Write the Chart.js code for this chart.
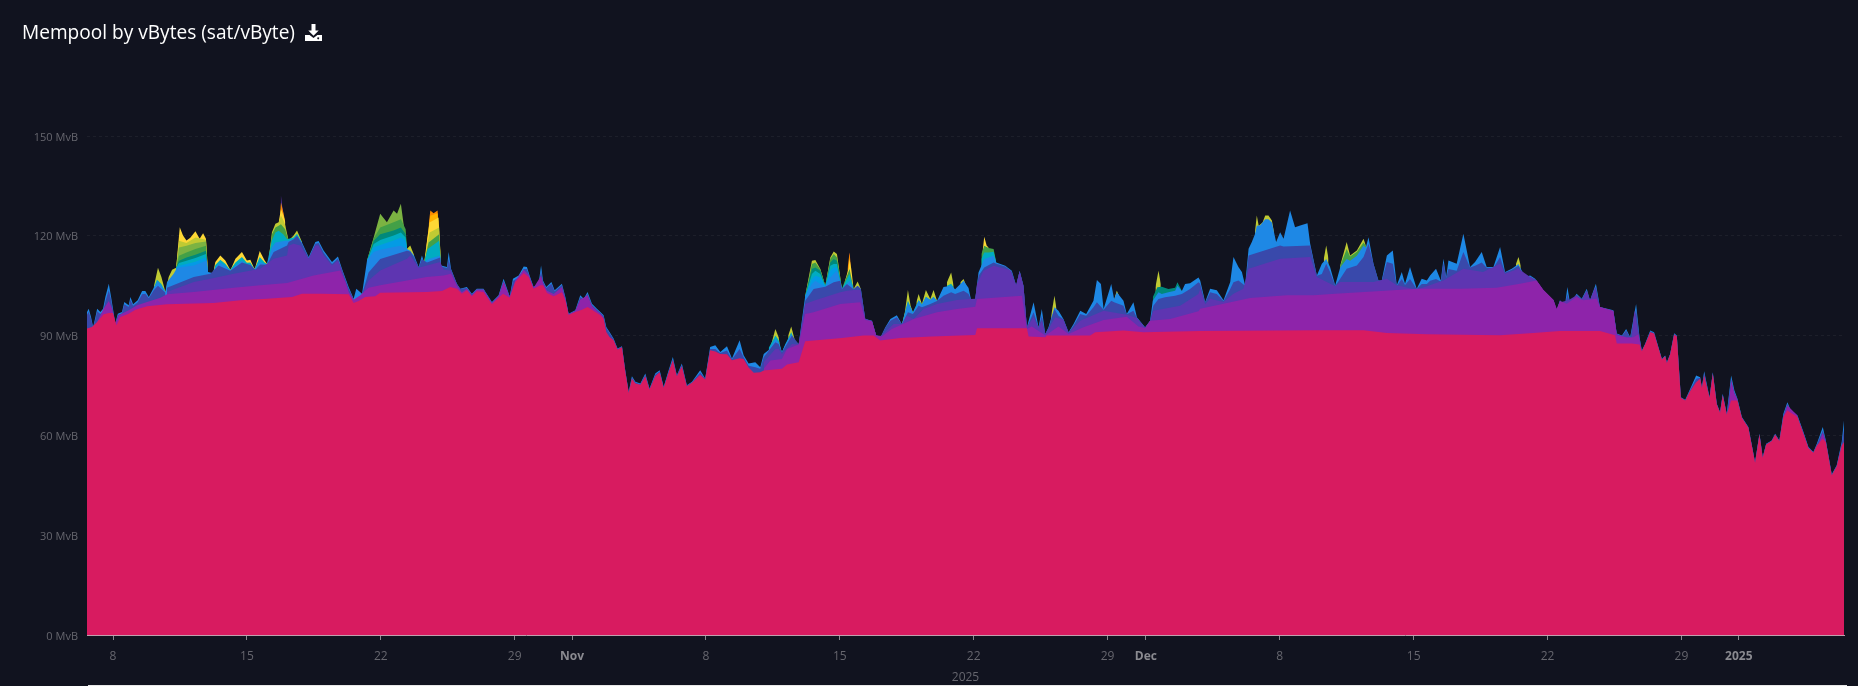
<!DOCTYPE html>
<html>
<head>
<meta charset="utf-8">
<title>Mempool by vBytes (sat/vByte)</title>
<script src="https://cdn.jsdelivr.net/npm/chart.js@4"></script>
<style>
html, body { margin: 0; padding: 0; background: #11131f; overflow: hidden; }
.chart-wrap { position: relative; width: 1858px; height: 686px; }
.chart-title {
    position: absolute; left: 22px; top: 19px; color: #fff;
    font: 400 19.1px "Open Sans", sans-serif; line-height: 27px;
}
.chart-title svg { position: absolute; left: 283px; top: 5px; }
.bottom-line { position: absolute; left: 88px; right: 11px; bottom: 0; height: 1px; background: #e8e8e8; }
</style>
</head>
<body>
<div class="chart-wrap">
    <canvas id="grafico-mempool" width="1858" height="686"></canvas>
    <div class="chart-title">Mempool by vBytes (sat/vByte)
        <svg width="17" height="17" viewBox="0 0 17 17" fill="#fff"><path d="M6.5 0h4v6.5h3.2L8.5 11.7 3.3 6.5h3.2z"/><path d="M0 11h4.6l3.9 3 3.9-3H17v6H0zM13.2 13.2a1 1 0 1 0 .01 0z"/></svg>
    </div>
    <div class="bottom-line"></div>
</div>

<script>
// x is days counted from 1 Oct (so 32 = 1 Nov, 62 = 1 Dec, 93 = 1 Jan)
const tickDays = [8, 15, 22, 29, 32, 39, 46, 53, 60, 62, 69, 76, 83, 90, 93];
const tickLabels = ['8', '15', '22', '29', 'Nov', '8', '15', '22', '29', 'Dec', '8', '15', '22', '29', '2025'];
const monthTicks = ['Nov', 'Dec', '2025'];
const axisYear = '2025';
const yTicks = [0, 30, 60, 90, 120, 150];

// Each list is the top edge of one fee band, [day, MvB].
// [day, null] breaks a band where it is not visible.
const pinkTop = [[6.64,92.1],[6.9,92.6],[7.17,94.1],[7.51,96.4],[7.78,96.8],[8,96.8],[8.18,93.1],[8.39,95.6],[8.82,96.6],[9.17,97.8],[9.78,98.8],[10.82,99.4],[13.26,99.8],[14.66,100.6],[16.05,101.1],[17.36,101.6],[17.88,102.6],[18.84,102.6],[20.32,102.4],[20.58,99.8],[20.84,100.4],[21.19,101.6],[21.71,101.8],[21.97,102.9],[24.41,103.1],[25.2,103.4],[25.63,104.6],[25.98,104.1],[26.24,102.6],[26.5,103.6],[26.76,101.8],[27.02,103.3],[27.37,103.1],[27.81,99.4],[28.16,101.4],[28.39,102.6],[28.74,101.4],[29.03,106.1],[29.47,108.8],[29.73,107.6],[29.99,104.1],[30.34,105.1],[30.48,105.1],[30.69,102.8],[31.04,101.8],[31.47,103],[31.65,100.6],[31.82,96.2],[32.17,97.1],[32.52,97.8],[32.81,98.6],[33.04,97.8],[33.48,96.1],[33.65,95.1],[33.79,91.1],[33.96,89.6],[34.17,88.6],[34.38,85.8],[34.61,86.5],[34.78,79.3],[34.96,72.8],[35.13,77],[35.31,75.6],[35.57,75.2],[35.83,77.8],[36.05,73.8],[36.35,77.8],[36.58,79],[36.79,74.3],[37.05,79],[37.27,82.6],[37.48,77.8],[37.74,80.8],[38,74.8],[38.27,75.8],[38.7,78.2],[38.96,76.8],[39.22,85.6],[39.49,85.2],[39.75,84.5],[40.1,84.4],[40.36,82.6],[40.76,83.2],[40.97,83],[41.23,80.4],[41.5,78.8],[41.84,79],[42.02,79.5],[42.97,80],[43.24,81.3],[43.85,82],[44.19,88.3],[46.11,89.3],[47.24,90],[47.77,90],[48.11,88.5],[49.16,89.3],[50.81,89.7],[53.08,90.2],[53.17,92.2],[55.78,92.2],[55.87,89.7],[56.74,89.5],[56.82,90],[59.09,90],[59.35,91],[60.83,91.5],[61.88,91],[64.84,91.4],[70.94,91.6],[73.38,91.6],[74.6,90.8],[76.69,90.4],[80.52,90.1],[82.26,90.8],[83.65,91.4],[85.74,91.4],[86.53,90.1],[86.62,87.6],[87.4,87.6],[87.81,87.3],[87.93,85.3],[88.1,87.3],[88.37,91],[88.57,90.6],[88.98,82.8],[89.15,83.8],[89.24,81.8],[89.41,84.3],[89.62,90.3],[89.76,89.7],[89.97,71.3],[90.2,70.5],[90.42,73],[90.77,76],[90.98,77],[91.07,74.3],[91.19,78],[91.47,71.3],[91.64,78.5],[91.85,69.3],[92.02,66.8],[92.16,72],[92.37,66.3],[92.6,70.5],[92.77,70.5],[92.93,70.5],[93.16,65.3],[93.5,62.3],[93.85,51.8],[94.08,60.3],[94.25,53.3],[94.43,57.3],[94.72,58.3],[94.9,60.2],[95.12,58.3],[95.33,65.5],[95.54,67.5],[95.72,66.8],[96.07,65.5],[96.38,60.5],[96.64,56.2],[96.9,54.8],[97.08,57],[97.39,59],[97.55,58],[97.86,48],[98.12,50.7],[98.38,57],[98.5,58]];

const purpleTop = [[7.17,94.1],[7.51,98.1],[7.78,100.4],[7.95,98.1],[8.12,93.6],[8.3,96.1],[8.82,97.6],[9.26,99.1],[9.78,100.1],[10.48,101.4],[10.82,102.4],[12.22,103.1],[13.09,103.6],[14.31,104.4],[15.7,105.1],[17.1,105.8],[18.49,108.1],[19.88,109.6],[20.15,106.1],[20.32,103.1],[20.58,100.8],[20.93,102.1],[21.36,104.4],[21.97,105.1],[23.37,106.6],[24.41,107.6],[25.28,108.1],[25.67,108.6],[25.98,104.8],[26.24,103],[26.5,104.1],[26.76,102.1],[27.02,103.8],[27.37,103.8],[27.81,99.8],[28.16,101.8],[28.42,106.1],[28.74,101.6],[29.03,106.6],[29.47,109.8],[29.73,108.3],[29.99,104.4],[30.38,108],[30.48,105.8],[30.69,103.5],[31.04,102.5],[31.47,104.6],[31.65,100.9],[31.82,96.4],[32.17,97.4],[32.43,100.8],[32.81,102.1],[33.04,98.8],[33.3,97.4],[33.48,96.6],[33.65,95.4],[33.66,null],
    [42.02,80],[42.37,82.5],[42.97,83],[43.24,86],[43.85,87.3],[44.19,96.5],[44.63,97],[46.02,99.5],[47.07,100],[47.33,94.7],[47.68,94.3],[47.9,90],[48.2,89.7],[48.72,92],[49.25,93.3],[49.86,95],[51.08,97],[52.12,98],[53.08,98.7],[53.17,101],[55.52,102],[55.78,92],[56.04,92.7],[56.74,90],[57,91],[57.43,92.7],[57.96,90.5],[58.74,92.5],[59.79,94.7],[61,95.7],[61.61,92.7],[61.96,92.3],[62.22,94.5],[63.27,95],[64.75,97.3],[64.84,98.1],[66.06,99.6],[67.45,101.3],[69.37,102.1],[70.76,102.1],[71.9,102.6],[74.07,103.3],[76.16,104.1],[78.43,104.1],[80.34,104.4],[81.56,105.6],[82.43,106.6],[82.78,103.8],[83.31,100.8],[83.48,98.1],[83.65,100.4],[84,99.6],[84.52,101.6],[84.87,100.6],[85.57,101.1],[85.74,98.6],[86.44,97.4],[86.62,90.1],[87.14,89.4],[87.49,89.5],[87.75,90.4],[87.92,85.4],[87.93,null],
    [92.37,66.3],[92.46,68],[92.6,76.5],[92.77,72.5],[92.93,70.8],[92.94,null],[95.33,65.5],[95.54,69],[96.07,66],[96.08,null],[97.2,58],[97.39,60.7],[97.55,58]];

const deepPurpleTop = [[10.82,103.1],[12.22,106.1],[13.09,107.1],[14.31,108.6],[15.7,110.1],[16.4,113.1],[17.1,114.1],[17.18,117],[17.44,117.6],[17.79,117.1],[18.23,113.1],[18.58,117.1],[18.75,117.1],[19.01,114.1],[19.45,111.1],[19.76,112.6],[19.97,109.6],[20.15,106.3],[20.32,103.3],[20.33,null],
    [21.02,102.3],[21.36,106.6],[21.97,109.6],[23.37,113.1],[23.54,114.1],[23.98,110.4],[24.41,111.1],[25.11,112.1],[25.28,109.8],[25.67,109.6],[25.98,105.4],[26.15,104],[26.16,null],
    [42.02,82],[42.63,86],[42.8,86],[42.97,84.5],[43.5,87.5],[43.85,87.3],[44.19,99.5],[44.63,100.5],[46.02,103],[46.37,103.5],[46.72,103.7],[47.07,103.7],[47.33,95],[47.68,94.4],[47.9,90],[48.15,89.9],[48.81,93.5],[49.25,93.5],[49.5,96],[49.86,95],[50.38,98],[51.08,99.5],[52.12,100.7],[52.82,101],[53.08,101.1],[53.17,105.5],[53.51,109.5],[54.04,111],[54.9,109.7],[55.22,105.2],[55.4,109.3],[55.6,105],[55.78,92.5],[56.13,95.5],[56.39,92.3],[56.56,94.5],[56.74,90.5],[56.91,92],[57.26,95.5],[57.69,94.7],[57.96,90.8],[58.57,94.5],[59.79,97.5],[61,96.3],[61.53,95.3],[61.96,92.3],[62.22,94.3],[62.39,97.5],[63.79,99],[64.75,102.5],[64.84,104.1],[65.1,99.4],[65.36,101.1],[66.06,100.1],[66.58,102.6],[67.1,104.1],[67.37,110.1],[69.02,113.1],[70.59,113.6],[70.94,107.6],[71.9,104.8],[72.16,106.1],[73.9,106.1],[74.6,107.1],[75.12,105.1],[76.16,103.8],[77.56,106.6],[78.6,110.1],[79.63,109.1],[80.52,111.6],[80.78,108.6],[81.48,110.1],[82.09,107.6],[82.43,106.6],[82.78,103.6],[83.31,100.6],[83.48,97.6],[83.72,100.1],[84.09,100.6],[84.52,102.1],[84.79,100.6],[85.05,103.4],[85.22,100.6],[85.48,104.4],[85.74,98.6],[86.44,97.4],[86.62,90.4],[87.4,89.1],[87.54,97.6],[87.75,90.6],[87.92,85.6]];

const indigoTop = [[6.64,96.3],[6.73,97.2],[6.85,95],[6.96,92.4],[7.08,95],[7.17,97.3],[7.34,96.5],[7.48,97.3],[7.6,100.3],[7.78,103.6],[7.9,100.8],[8.04,96.2],[8.12,93.4],[8.25,96.2],[8.47,96.7],[8.59,99.4],[8.82,98.6],[8.91,100.8],[9.05,99],[9.29,100],[9.52,102.4],[9.69,102.6],[9.87,101.2],[10.13,103.6],[10.35,105],[10.53,104],[10.74,102.9],[10.75,null],
    [10.82,104.4],[12.22,107.6],[13.09,108.6],[13.52,111.1],[14.13,109.5],[14.74,112],[15.18,111.2],[15.44,109.8],[15.7,111.4],[16.05,111.3],[16.4,115.1],[17.1,117.1],[17.18,118.1],[17.44,119],[17.62,120],[17.88,117.6],[18.23,113.3],[18.58,117.6],[18.75,117.8],[19.01,115],[19.45,111.5],[19.76,113.2],[19.97,109.8],[20.32,104.2],[20.58,100.9],[20.59,null],
    [21.02,102.4],[21.36,109],[21.97,113],[23.37,115.5],[23.54,115.3],[23.75,113.5],[23.98,110.5],[24.15,113],[24.41,112],[25.11,113.5],[25.15,110.8],[25.46,110.3],[25.55,113],[25.67,109.9],[25.98,105.5],[26.15,104.1],[26.5,104.3],[26.76,102.4],[27.02,103.9],[27.37,103.9],[27.81,99.9],[28.16,101.9],[28.42,106.5],[28.74,101.7],[28.91,106.4],[29.21,107.5],[29.47,110],[29.64,110],[29.78,107.7],[29.99,104.5],[30.25,105.3],[30.38,109.5],[30.48,106.2],[30.65,104.3],[30.92,105.6],[31.09,103.3],[31.47,105.2],[31.65,101.3],[31.82,96.5],[32.17,97.5],[32.43,101.6],[32.61,100.7],[32.81,102.6],[33.04,99.2],[33.3,97.8],[33.48,96.9],[33.65,95.8],[33.79,92.3],[33.96,90.8],[34.17,88.9],[34.38,86],[34.61,86.7],[34.78,79.5],[34.96,73],[35.13,77.4],[35.31,75.9],[35.57,75.4],[35.83,78.2],[36.05,74],[36.35,78.2],[36.58,79.3],[36.79,74.5],[37.05,79.3],[37.27,83],[37.48,78],[37.74,81.2],[38,75],[38.27,76],[38.7,78.9],[38.96,77],[39.22,86],[39.49,86],[39.75,84.8],[40.1,85.5],[40.36,82.9],[40.76,86],[40.97,83.5],[41.23,80.9],[41.58,80.5],[41.84,80],
    [42.02,83.5],[42.63,88],[42.8,87.5],[42.97,85],[43.5,90],[43.85,87.5],[44.19,100.5],[44.63,104],[45.24,104.7],[45.68,106],[46.02,106.5],[46.11,104],[46.37,105.5],[46.72,103.9],[46.93,105],[47.1,103.9],[47.33,95],[47.68,94.4],[47.9,90],[48.15,89.8],[48.38,92.4],[48.64,94.5],[48.98,95.5],[49.25,93.4],[49.56,97],[49.82,96.5],[50.12,99],[50.29,98.5],[50.73,99.5],[51.08,100.4],[51.42,102],[51.82,103],[52.03,102.5],[52.47,103.5],[52.73,102.5],[52.85,101],[53.08,101],[53.25,108],[53.55,110.5],[54.04,112],[54.18,111.6],[54.65,110.8],[54.99,109.3],[55.22,105],[55.4,109.4],[55.6,105],[55.78,92.5],[56.13,97],[56.39,92.4],[56.56,96],[56.74,90.4],[56.91,92.3],[57.22,98],[57.43,96],[57.69,94.9],[57.96,90.9],[58.22,93],[58.57,96.5],[58.88,96],[59.26,98.5],[59.44,100],[59.79,97.8],[60.19,100.5],[60.34,100],[60.83,99],[61,96.4],[61.35,97.5],[61.53,95.4],[61.96,92.4],[62.22,94.4],[62.39,99],[62.66,101],[63,101.5],[63.53,102],[63.88,102.5],[64.31,104],[64.75,106],[64.84,105.6],[65.1,100],[65.36,103],[65.71,102.5],[66.06,100.4],[66.41,104],[66.58,106],[66.84,106.6],[67.19,105],[67.37,114.1],[69.02,117.1],[69.2,116.8],[70.59,117.1],[70.94,108],[71.2,108.5],[71.43,111.6],[71.63,109.1],[71.9,105],[72.16,107.1],[72.5,110.1],[73.03,111.1],[73.38,113.6],[73.64,117.6],[73.9,111.6],[74.16,106.5],[74.33,106.5],[74.6,112.1],[74.91,111.6],[75.12,105],[75.38,107],[75.55,105.2],[75.81,107],[76.16,104],[76.42,105.5],[76.69,105.5],[76.86,106.5],[77.17,107],[77.42,106.3],[77.56,112],[77.7,107.4],[77.82,110],[78.25,109.5],[78.6,115.1],[78.95,110.5],[79.21,111],[79.56,112],[79.82,110.4],[80.17,110.3],[80.52,113.6],[80.78,109],[81.13,109.8],[81.48,111],[81.82,107.4],[82.09,107.8],[82.35,106.9],[82.78,103.5],[83.31,100.5],[83.48,97.6],[83.65,100.5],[83.91,99],[84.04,102.5],[84.18,99.5],[84.52,102.3],[84.79,100.9],[85.05,103.7],[85.22,100.5],[85.53,104.8],[85.74,98.5],[86.44,97.5],[86.62,90.5],[86.89,89.9],[87.11,91.5],[87.32,89.4],[87.63,98],[87.81,89.4],[87.93,85.4],[88.1,87.4],[88.37,91.3],[88.57,90.8],[88.98,82.9],[89.15,83.9],[89.24,81.9],[89.41,84.4],[89.62,90.5],[89.76,89.9],[89.97,71.4],[90.2,70.6],[90.42,73.3],[90.77,77],[90.98,77.3],[91.07,74.4],[91.19,78.8],[91.47,71.4],[91.64,78.8],[91.85,69.4],[92.02,66.9],[92.16,72.3],[92.37,66.4],[92.6,77],[92.77,73],[92.93,70.9],[93.16,65.4],[93.5,62.4],[93.85,51.9],[94.08,60.4],[94.25,53.4],[94.43,57.4],[94.72,58.4],[94.9,60.4],[95.12,58.4],[95.33,66],[95.54,69.5],[95.72,67.2],[96.07,65.8],[96.38,60.8],[96.64,56.4],[96.9,54.9],[97.08,57.3],[97.39,61.5],[97.55,58.4],[97.86,48.2],[98.12,50.9],[98.38,57.5],[98.5,62]];

const blueTop = [[6.64,97.1],[6.73,98.1],[6.85,95.6],[6.96,92.6],[7.08,95.6],[7.17,98.1],[7.34,97.1],[7.48,98.1],[7.6,101.6],[7.78,105.6],[7.9,101.6],[8.04,96.6],[8.12,93.6],[8.25,96.6],[8.47,97.1],[8.59,100.1],[8.82,99.1],[8.91,101.6],[9.05,99.4],[9.29,100.6],[9.52,103.4],[9.69,103.4],[9.87,101.6],[10.13,104.4],[10.35,106.5],[10.53,105],[10.74,103.1],[10.82,106],[11.17,108.6],[11.35,110.4],[12.22,111.1],[12.91,112.6],[12.97,109.1],[13.18,108.8],[13.35,110.5],[13.61,112],[13.87,111],[14.13,109.6],[14.4,111],[14.74,112.5],[15,111.2],[15.18,111.4],[15.39,109.9],[15.67,112.2],[15.93,111.5],[16.05,111.4],[16.31,116.5],[16.49,118],[17,118.5],[17.18,118.5],[17.44,119],[17.62,120],[17.88,118],[18.23,113.6],[18.58,118.1],[18.75,118.4],[19.01,115.6],[19.45,112.1],[19.76,113.8],[19.97,110.1],[20.32,104.6],[20.58,101.1],[20.72,104.1],[21.02,102.6],[21.28,112.6],[21.63,115.1],[21.97,115.8],[22.67,116.6],[23.05,117],[23.37,116],[23.54,115.5],[23.75,113.9],[23.98,110.6],[24.15,114.1],[24.27,112],[24.5,113],[25.1,114],[25.15,111.1],[25.46,110.6],[25.55,115.1],[25.67,110.1],[25.98,105.6],[26.15,104.1],[26.5,104.6],[26.76,102.6],[27.02,104.1],[27.37,104.1],[27.81,100.1],[28.16,102.1],[28.42,107.1],[28.74,101.8],[28.91,107.1],[29.21,108.1],[29.47,110.8],[29.64,110.6],[29.78,108.1],[29.99,104.6],[30.25,105.6],[30.38,111.1],[30.48,106.6],[30.65,104.6],[30.92,106.1],[31.09,103.6],[31.47,105.6],[31.65,101.6],[31.82,96.6],[32.17,97.6],[32.43,102.1],[32.61,101.1],[32.81,103.1],[33.04,99.6],[33.3,98.1],[33.48,97.1],[33.65,96.1],[33.79,92.6],[33.96,91.1],[34.17,89.1],[34.38,86.1],[34.61,86.8],[34.78,79.6],[34.96,73.1],[35.13,77.8],[35.31,76.1],[35.57,75.6],[35.83,78.6],[36.05,74.1],[36.35,78.6],[36.58,79.6],[36.79,74.6],[37.05,79.6],[37.27,83.6],[37.48,78.1],[37.74,81.6],[38,75.1],[38.27,76.1],[38.7,79.6],[38.96,77.1],[39.22,86.6],[39.49,87.1],[39.75,85.1],[40.1,86.8],[40.36,83.1],[40.76,88.6],[40.97,84.1],[41.23,81.6],[41.58,82],[41.84,80.5],[42.02,84.5],[42.28,85.7],[42.63,89],[42.8,88],[42.97,85],[43.15,87.3],[43.46,90.5],[43.67,87.8],[43.85,87.5],[44.19,102],[44.54,105.5],[44.72,106.5],[44.98,105.5],[45.24,104.7],[45.5,107.5],[45.68,108.5],[45.85,109.5],[46.11,104],[46.51,106.5],[46.72,104],[46.93,105],[47.1,104],[47.33,95],[47.68,94.5],[47.9,90],[48.15,89.7],[48.38,92.5],[48.64,95],[48.98,96.1],[49.25,93.4],[49.56,100],[49.82,96.9],[50.12,100.5],[50.29,99.3],[50.5,101.5],[50.73,100.7],[50.9,101.5],[51.08,100.4],[51.42,104.6],[51.82,105],[52.03,103.9],[52.47,106.5],[52.73,104.3],[52.85,101],[53.08,101],[53.25,109],[53.55,113],[53.78,113.5],[54.04,114],[54.18,112],[54.65,111],[54.99,109.5],[55.22,105],[55.4,109.5],[55.6,105],[55.78,92.5],[56.13,100],[56.39,92.5],[56.56,98],[56.74,90.5],[56.91,92.5],[57.22,98.5],[57.43,97.5],[57.69,95],[57.96,91],[58.22,93.5],[58.57,97.5],[58.88,96.5],[59.26,100.5],[59.44,106.7],[59.65,105.5],[59.79,98],[60.19,105.5],[60.34,101],[60.48,103],[60.83,100.5],[61,96.5],[61.35,100],[61.53,95.5],[61.96,92.5],[62.22,94.5],[62.36,100.5],[62.66,103],[62.83,102.5],[63.18,103],[63.53,103.5],[63.65,105],[63.88,103.4],[64.05,105.5],[64.31,105.7],[64.75,107.5],[64.84,106.6],[65.1,100.1],[65.36,104.1],[65.71,103.6],[66.06,100.6],[66.41,106.1],[66.58,113.6],[66.84,110.6],[67.02,109.1],[67.19,105.1],[67.37,116.1],[67.54,118.1],[67.7,120.5],[67.8,123],[67.98,123.2],[68.24,125],[68.41,125],[68.59,124],[68.81,118.1],[69.02,121.1],[69.2,119.1],[69.54,127.6],[69.8,122.6],[70.07,123.1],[70.45,123.8],[70.59,117.6],[70.94,108.1],[71.2,111.6],[71.43,113],[71.63,110.6],[71.9,105.1],[72.16,110.5],[72.5,113],[72.68,112.5],[73.03,114],[73.38,117],[73.5,116.5],[73.64,119.6],[73.9,111.6],[74.16,106.6],[74.33,106.6],[74.6,114.1],[74.91,115.6],[75.12,105.1],[75.38,109.1],[75.55,105.6],[75.81,110.6],[76.16,104.1],[76.42,107.1],[76.69,106.6],[76.86,108.1],[77.17,110.1],[77.42,106.6],[77.56,113.1],[77.7,107.6],[77.82,112.6],[78.25,111.6],[78.6,120.6],[78.95,110.6],[79.21,112.1],[79.56,115.1],[79.82,110.6],[80.17,110.6],[80.52,116.6],[80.78,109.1],[81.13,110.1],[81.48,111.5],[81.82,107.6],[82.09,108.1],[82.35,107.1],[82.78,103.6],[83.31,100.6],[83.48,97.6],[83.65,100.6],[83.91,99.1],[84.04,104.6],[84.18,99.6],[84.52,102.6],[84.79,101.1],[85.05,104.1],[85.22,100.6],[85.53,105.6],[85.74,98.6],[86.44,97.6],[86.62,90.6],[86.89,90],[87.11,92],[87.32,89.5],[87.63,99.5],[87.81,89.5],[87.93,85.5],[88.1,87.5],[88.37,91.5],[88.57,91],[88.98,83],[89.15,84],[89.24,82],[89.41,84.5],[89.62,90.7],[89.76,90],[89.97,71.5],[90.2,70.7],[90.42,73.5],[90.77,78],[90.98,77.5],[91.07,74.5],[91.19,79.3],[91.47,71.5],[91.64,79],[91.85,69.5],[92.02,67],[92.16,72.5],[92.37,66.5],[92.6,78],[92.77,73.5],[92.93,71],[93.16,65.5],[93.5,62.5],[93.85,52],[94.08,60.5],[94.25,53.5],[94.43,57.5],[94.72,58.5],[94.9,60.5],[95.12,58.5],[95.33,66.5],[95.54,70],[95.72,67.5],[96.07,66],[96.38,61],[96.64,56.5],[96.9,55],[97.08,57.5],[97.39,62.5],[97.55,58.5],[97.86,48.3],[98.12,51],[98.38,58],[98.5,64.5]];

const lightBlueTop = [[11.3,110.4],[11.45,111],[11.84,111.5],[12.31,112.2],[12.86,113.5],[12.95,109.5],[12.96,null],[21.28,112.6],[21.63,116.5],[21.97,117.2],[22.67,118.6],[23.05,119.5],[23.3,118.5],[23.37,116.1],[23.38,null],[44.19,102],[44.54,107],[44.72,108],[44.98,107.5],[45.24,104.9],[45.5,109.5],[45.68,110.5],[45.85,110.5],[46.11,104]];
const cyanTop = [[10.13,104.4],[10.3,106.8],[10.53,105.5],[10.74,103.1],[10.75,null],[11.3,110.4],[11.45,111.8],[11.84,112.5],[12.31,113.3],[12.86,114.5],[12.95,109.5],[12.96,null],[13.25,109],[13.35,111.2],[13.61,112.8],[13.87,111.6],[14.13,109.7],[14.2,110.3],[14.4,112],[14.74,113.6],[15,111.9],[15.18,112],[15.39,110],[15.45,110.6],[15.67,113.6],[15.93,112],[16.05,111.5],[16.3,118.5],[16.49,121],[16.66,121.5],[16.9,120.5],[17.1,119],[17.44,119.5],[17.62,120.6],[17.88,118],[17.89,null],[21.28,112.6],[21.63,117.5],[21.97,118.7],[22.67,120.1],[23.05,121],[23.3,119.5],[23.37,116.1],[23.38,null],[24.27,112.1],[24.45,116],[25.05,118.5],[25.15,111.1],[25.16,null],[42.28,86.3],[42.63,90],[42.8,88.7],[42.97,85],[43.15,87.4],[43.46,91],[43.67,87.9],[43.68,null],[44.19,102],[44.54,108.5],[44.72,109.5],[44.98,108.5],[45.24,105],[45.5,111],[45.68,111.5],[45.85,111.5],[46.11,104],[46.45,108],[46.51,108.5],[46.72,104],[46.73,null],[49.25,93.4],[49.56,100.5],[49.82,97],[50.12,100.7],[50.29,99.4],[50.5,101.7],[50.73,100.8],[50.9,101.7],[51.08,100.5],[51.09,null],[51.6,105],[51.82,105.6],[51.95,104.5],[51.96,null],[53.4,113],[53.55,115],[53.78,115],[54.04,115.2],[54.18,112]];
const tealTop = [[11.3,110.4],[11.45,112.5],[11.84,113.5],[12.31,114.3],[12.86,115.5],[12.95,109.5],[12.96,null],[21.28,112.6],[21.63,118.5],[21.97,120.5],[22.67,121.6],[23.05,122.5],[23.3,120.5],[23.37,116.1],[23.38,null],[44.19,102],[44.54,110],[44.72,110.5],[44.98,109.5],[45.24,105],[45.5,112],[45.68,113],[45.85,112.5],[46.11,104],[46.12,null],[62.36,101.5],[62.6,104.5],[62.83,104.7],[63.18,104],[63.53,104.4],[63.65,106],[63.88,103.5]];
const greenTop = [[11.3,110.4],[11.45,114],[11.84,115],[12.31,116],[12.86,117],[12.95,109.5],[12.96,null],[16.15,113],[16.31,120.5],[16.49,122.5],[16.66,123],[16.78,123.5],[17,122],[17.18,118.6],[17.19,null],[21.28,112.6],[21.63,119.3],[21.97,122.5],[22.67,124.1],[23.05,125],[23.3,122],[23.37,116.1],[23.38,null],[24.27,112.1],[24.5,118],[25.05,120.5],[25.15,111.1],[25.16,null],[44.19,102],[44.54,111.5],[44.72,112],[44.98,109.9],[45.24,105],[45.5,113],[45.68,114.5],[45.85,113.5],[46.11,104],[46.2,105.5],[46.51,110],[46.72,104],[46.73,null],[53.4,114.5],[53.55,117],[53.78,116.3],[54.04,116],[54.18,112],[54.19,null],[72.16,111],[72.5,116],[72.68,113.8],[73.03,115.2],[73.38,118],[73.5,117]];
const lightGreenTop = [[11.3,110.4],[11.45,116.5],[11.84,117],[12.31,117.8],[12.86,118.3],[12.95,109.5],[12.96,null],[21.28,112.6],[21.63,119.6],[21.97,126.6],[22.32,124.1],[22.67,127.6],[22.85,126.6],[23.05,129.6],[23.19,123.6],[23.37,116.1]];
const limeTop = [[10.13,104.6],[10.35,110.4],[10.53,107.6],[10.74,103.1],[10.91,107.6],[11.09,109.8],[11.3,110.4],[11.45,118.5],[11.84,117.8],[12.31,119.5],[12.86,118.8],[12.95,109.5],[12.96,null],[16.15,113.5],[16.31,121.1],[16.49,123.6],[16.66,124.1],[16.78,126],[16.92,124.5],[17.01,123],[17.18,118.6],[17.44,120.1],[17.62,121.6],[17.88,118.1],[17.89,null],[23.37,116.1],[23.54,117.1],[23.75,114.1],[23.76,null],[24.27,112.1],[24.55,121],[25.05,122.5],[25.15,111.1],[25.16,null],[42.4,87],[42.63,92],[42.8,89.5],[42.85,88],[42.86,null],[43.3,90],[43.46,92.7],[43.65,88.5],[43.66,null],[44.19,102],[44.54,112.5],[44.72,112.7],[44.98,110],[45.24,105],[45.5,113.5],[45.68,115.3],[45.85,114.5],[46.11,104],[46.12,null],[46.72,104],[46.93,106.3],[47.1,104],[47.11,null],[49.25,93.4],[49.4,97],[49.56,103.7],[49.7,99],[49.82,97],[49.83,null],[50,100],[50.12,102.5],[50.29,99.5],[50.5,103.7],[50.73,101],[50.9,103.7],[51.08,100.5],[51.09,null],[51.6,106],[51.82,109],[51.95,105],[51.96,null],[52.3,106],[52.47,107],[52.6,105],[52.61,null],[57.05,96],[57.22,102],[57.33,98],[57.34,null],[60.35,101],[60.48,103.5],[60.6,102],[60.61,null],[62.5,104.5],[62.66,109.5],[62.78,105.5],[62.79,null],[67.7,121],[67.8,126.1],[67.9,123],[68.1,124],[68.24,126.1],[68.41,126.1],[68.59,124.6],[68.7,121],[68.71,null],[71.3,113],[71.43,117.1],[71.55,113],[71.56,null],[72.16,111.1],[72.5,118.1],[72.68,114.1],[73.03,115.6],[73.38,119.1],[73.5,117.1],[73.51,null],[81.35,111.5],[81.48,113.6],[81.6,111]];
const yellowTop = [[11.3,110.4],[11.49,122.6],[11.66,120.1],[11.84,118.6],[12.04,119.4],[12.31,121.4],[12.53,119.1],[12.71,120.8],[12.86,119.1],[12.97,109.1],[12.98,null],[13.25,109.2],[13.35,112.1],[13.61,114.1],[13.87,112.6],[14.13,109.8],[14.2,110.5],[14.4,113.1],[14.74,115.1],[15,112.6],[15.18,112.8],[15.39,110.1],[15.45,110.8],[15.67,115.4],[15.93,112.6],[16.05,111.6],[16.06,null],[16.66,124.1],[16.72,126],[16.78,128],[16.92,126],[17.01,124.1],[17.02,null],[24.27,112.1],[24.55,124],[25.02,125.5],[25.15,111.1],[25.16,null],[46.25,106],[46.45,110],[46.51,113],[46.6,110],[46.72,104],[46.73,null],[53.45,114.5],[53.55,119.7],[53.68,117],[53.78,116.5]];
const amberTop = [[24.38,117],[24.59,126],[24.97,126.8],[25.1,115]];
const orangeTop = [[16.72,124.8],[16.78,130],[16.92,126.6],[17,124.2],[17.01,null],[24.5,123],[24.59,127.6],[24.76,126.8],[24.97,127.6],[25.05,119],[25.06,null],[46.4,110],[46.51,115],[46.58,110]];
const redTop = [[46.47,112],[46.51,115],[46.55,112]];
const violetTop = [[16.74,126],[16.78,132.1],[16.84,129],[16.92,126.6]];

// lowest band first: chart.js paints the first dataset last, so it ends up on top
const bands = [
    [pinkTop, '#D81B60'],
    [purpleTop, '#8E24AA'],
    [deepPurpleTop, '#5E35B1'],
    [indigoTop, '#3949AB'],
    [blueTop, '#1E88E5'],
    [lightBlueTop, '#039BE5'],
    [cyanTop, '#00ACC1'],
    [tealTop, '#00897B'],
    [greenTop, '#43A047'],
    [lightGreenTop, '#7CB342'],
    [limeTop, '#C0CA33'],
    [yellowTop, '#FDD835'],
    [amberTop, '#FFB300'],
    [orangeTop, '#FB8C00'],
    [redTop, '#E53935'],
    [violetTop, '#5E35B1']
];

new Chart(document.getElementById('grafico-mempool').getContext('2d'), {
    type: 'line',
    data: {
        datasets: bands.map(function(band) {
            return {
                data: band[0].map(function(p) { return { x: p[0], y: p[1] }; }),
                backgroundColor: band[1],
                borderWidth: 0,
                pointRadius: 0,
                fill: 'origin'
            };
        })
    },
    options: {
        responsive: false,
        animation: false,
        layout: { padding: { top: 136, right: 14 } },
        plugins: { legend: { display: false }, tooltip: { enabled: false } },
        scales: {
            x: {
                type: 'linear',
                min: 6.64,
                max: 98.5,
                afterFit: function(scale) { scale.height = 51; },
                afterBuildTicks: function(scale) {
                    scale.ticks = tickDays.map(function(d) { return { value: d }; });
                },
                border: { color: '#c0a0ae' },
                grid: { drawOnChartArea: false, drawTicks: true, tickLength: 5, color: '#8a8a90' },
                ticks: {
                    autoSkip: false,
                    maxRotation: 0,
                    padding: 9,
                    callback: function(value, index) { return tickLabels[index]; },
                    color: function(ctx) {
                        return monthTicks.includes(tickLabels[ctx.index]) ? '#8a8a90' : '#66666e';
                    },
                    font: function(ctx) {
                        return {
                            family: '"Open Sans", sans-serif',
                            size: 12,
                            weight: monthTicks.includes(tickLabels[ctx.index]) ? 'bold' : 'normal'
                        };
                    }
                },
                title: {
                    display: true,
                    text: axisYear,
                    color: '#66666e',
                    padding: { top: 0, bottom: 1 },
                    font: { family: '"Open Sans", sans-serif', size: 12 }
                }
            },
            y: {
                min: 0,
                max: 150,
                afterFit: function(scale) { scale.width = 87; },
                afterBuildTicks: function(scale) {
                    scale.ticks = yTicks.map(function(v) { return { value: v }; });
                },
                border: { display: false },
                grid: {
                    color: function(ctx) { return ctx.tick.value === 0 ? 'transparent' : 'rgba(255,255,255,0.05)'; },
                    lineWidth: 1,
                    drawTicks: false,
                    tickBorderDash: [3, 3]
                },
                border: { display: false, dash: [3, 3] },
                ticks: {
                    padding: 9,
                    labelOffset: 1.5,
                    color: '#66666e',
                    font: { family: '"Open Sans", sans-serif', size: 11 },
                    callback: function(value) { return value + ' MvB'; }
                }
            }
        }
    }
});
</script>
</body>
</html>
